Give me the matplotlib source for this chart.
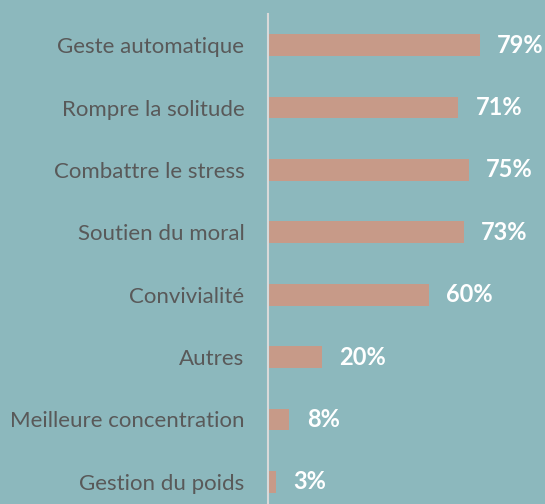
import matplotlib
matplotlib.use("Agg")
import matplotlib.pyplot as plt

categories = [
    "Geste automatique",
    "Rompre la solitude",
    "Combattre le stress",
    "Soutien du moral",
    "Convivialité",
    "Autres",
    "Meilleure concentration",
    "Gestion du poids",
]
values = [79, 71, 75, 73, 60, 20, 8, 3]

bg = "#8cb8bd"
bar_color = "#c79a88"
label_color = "#595959"

fig = plt.figure(figsize=(5.45, 5.04), dpi=100, facecolor=bg)
ax = fig.add_axes([268 / 545, -9 / 504, 277 / 545, 499 / 504], facecolor=bg)

y = list(range(len(categories)))
ax.barh(y, values, height=0.35, color=bar_color)
ax.set_xlim(0, 103.4)
ax.set_ylim(len(categories) - 0.5, -0.5)

for spine in ["top", "right", "bottom"]:
    ax.spines[spine].set_visible(False)
ax.spines["left"].set_color("#d9d9d9")
ax.spines["left"].set_linewidth(1.5)
ax.set_xticks([])
ax.set_yticks(y)
ax.set_yticklabels(categories, fontsize=16, color=label_color, family="Lato")
ax.tick_params(axis="y", length=0, pad=17)

for yi, v in zip(y, values):
    ax.annotate(f"{v}%", (v, yi), xytext=(12.5, 0), textcoords="offset points",
                ha="left", va="center", color="white", fontsize=17,
                fontweight="bold", family="Lato")

fig.savefig("out.png", dpi=100, facecolor=bg)
